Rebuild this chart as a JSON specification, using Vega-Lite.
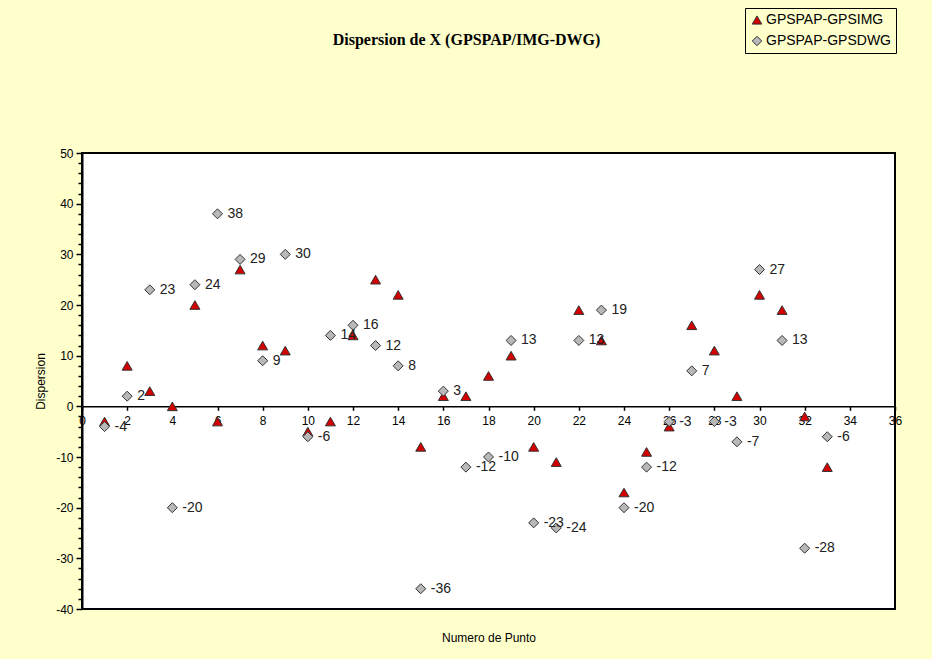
{
  "$schema": "https://vega.github.io/schema/vega-lite/v6.json",
  "width": 813,
  "height": 456,
  "autosize": "none",
  "padding": {"left": 82, "top": 153, "right": 37, "bottom": 50},
  "background": "#FFFFCC",
  "title": {
    "text": "Dispersion de X (GPSPAP/IMG-DWG)",
    "font": "Liberation Serif",
    "fontSize": 16,
    "fontWeight": "bold",
    "color": "#000000",
    "anchor": "middle",
    "dx": -22,
    "offset": -40
  },
  "config": {
    "view": {"fill": "white", "stroke": "black", "strokeWidth": 2},
    "axis": {"labelFont": "Liberation Sans", "titleFont": "Liberation Sans", "labelColor": "#000", "titleColor": "#000", "grid": false}
  },
  "data": {
    "values": [
      {"punto": 1, "serie": "GPSPAP-GPSIMG", "valor": -3},
      {"punto": 2, "serie": "GPSPAP-GPSIMG", "valor": 8},
      {"punto": 3, "serie": "GPSPAP-GPSIMG", "valor": 3},
      {"punto": 4, "serie": "GPSPAP-GPSIMG", "valor": 0},
      {"punto": 5, "serie": "GPSPAP-GPSIMG", "valor": 20},
      {"punto": 6, "serie": "GPSPAP-GPSIMG", "valor": -3},
      {"punto": 7, "serie": "GPSPAP-GPSIMG", "valor": 27},
      {"punto": 8, "serie": "GPSPAP-GPSIMG", "valor": 12},
      {"punto": 9, "serie": "GPSPAP-GPSIMG", "valor": 11},
      {"punto": 10, "serie": "GPSPAP-GPSIMG", "valor": -5},
      {"punto": 11, "serie": "GPSPAP-GPSIMG", "valor": -3},
      {"punto": 12, "serie": "GPSPAP-GPSIMG", "valor": 14},
      {"punto": 13, "serie": "GPSPAP-GPSIMG", "valor": 25},
      {"punto": 14, "serie": "GPSPAP-GPSIMG", "valor": 22},
      {"punto": 15, "serie": "GPSPAP-GPSIMG", "valor": -8},
      {"punto": 16, "serie": "GPSPAP-GPSIMG", "valor": 2},
      {"punto": 17, "serie": "GPSPAP-GPSIMG", "valor": 2},
      {"punto": 18, "serie": "GPSPAP-GPSIMG", "valor": 6},
      {"punto": 19, "serie": "GPSPAP-GPSIMG", "valor": 10},
      {"punto": 20, "serie": "GPSPAP-GPSIMG", "valor": -8},
      {"punto": 21, "serie": "GPSPAP-GPSIMG", "valor": -11},
      {"punto": 22, "serie": "GPSPAP-GPSIMG", "valor": 19},
      {"punto": 23, "serie": "GPSPAP-GPSIMG", "valor": 13},
      {"punto": 24, "serie": "GPSPAP-GPSIMG", "valor": -17},
      {"punto": 25, "serie": "GPSPAP-GPSIMG", "valor": -9},
      {"punto": 26, "serie": "GPSPAP-GPSIMG", "valor": -4},
      {"punto": 27, "serie": "GPSPAP-GPSIMG", "valor": 16},
      {"punto": 28, "serie": "GPSPAP-GPSIMG", "valor": 11},
      {"punto": 29, "serie": "GPSPAP-GPSIMG", "valor": 2},
      {"punto": 30, "serie": "GPSPAP-GPSIMG", "valor": 22},
      {"punto": 31, "serie": "GPSPAP-GPSIMG", "valor": 19},
      {"punto": 32, "serie": "GPSPAP-GPSIMG", "valor": -2},
      {"punto": 33, "serie": "GPSPAP-GPSIMG", "valor": -12},
      {"punto": 1, "serie": "GPSPAP-GPSDWG", "valor": -4},
      {"punto": 2, "serie": "GPSPAP-GPSDWG", "valor": 2},
      {"punto": 3, "serie": "GPSPAP-GPSDWG", "valor": 23},
      {"punto": 4, "serie": "GPSPAP-GPSDWG", "valor": -20},
      {"punto": 5, "serie": "GPSPAP-GPSDWG", "valor": 24},
      {"punto": 6, "serie": "GPSPAP-GPSDWG", "valor": 38},
      {"punto": 7, "serie": "GPSPAP-GPSDWG", "valor": 29},
      {"punto": 8, "serie": "GPSPAP-GPSDWG", "valor": 9},
      {"punto": 9, "serie": "GPSPAP-GPSDWG", "valor": 30},
      {"punto": 10, "serie": "GPSPAP-GPSDWG", "valor": -6},
      {"punto": 11, "serie": "GPSPAP-GPSDWG", "valor": 14},
      {"punto": 12, "serie": "GPSPAP-GPSDWG", "valor": 16},
      {"punto": 13, "serie": "GPSPAP-GPSDWG", "valor": 12},
      {"punto": 14, "serie": "GPSPAP-GPSDWG", "valor": 8},
      {"punto": 15, "serie": "GPSPAP-GPSDWG", "valor": -36},
      {"punto": 16, "serie": "GPSPAP-GPSDWG", "valor": 3},
      {"punto": 17, "serie": "GPSPAP-GPSDWG", "valor": -12},
      {"punto": 18, "serie": "GPSPAP-GPSDWG", "valor": -10},
      {"punto": 19, "serie": "GPSPAP-GPSDWG", "valor": 13},
      {"punto": 20, "serie": "GPSPAP-GPSDWG", "valor": -23},
      {"punto": 21, "serie": "GPSPAP-GPSDWG", "valor": -24},
      {"punto": 22, "serie": "GPSPAP-GPSDWG", "valor": 13},
      {"punto": 23, "serie": "GPSPAP-GPSDWG", "valor": 19},
      {"punto": 24, "serie": "GPSPAP-GPSDWG", "valor": -20},
      {"punto": 25, "serie": "GPSPAP-GPSDWG", "valor": -12},
      {"punto": 26, "serie": "GPSPAP-GPSDWG", "valor": -3},
      {"punto": 27, "serie": "GPSPAP-GPSDWG", "valor": 7},
      {"punto": 28, "serie": "GPSPAP-GPSDWG", "valor": -3},
      {"punto": 29, "serie": "GPSPAP-GPSDWG", "valor": -7},
      {"punto": 30, "serie": "GPSPAP-GPSDWG", "valor": 27},
      {"punto": 31, "serie": "GPSPAP-GPSDWG", "valor": 13},
      {"punto": 32, "serie": "GPSPAP-GPSDWG", "valor": -28},
      {"punto": 33, "serie": "GPSPAP-GPSDWG", "valor": -6}
    ]
  },
  "encoding": {
    "x": {
      "field": "punto",
      "type": "quantitative",
      "scale": {"domain": [0, 36], "nice": false, "zero": false},
      "axis": {
        "values": [0, 2, 4, 6, 8, 10, 12, 14, 16, 18, 20, 22, 24, 26, 28, 30, 32, 34, 36],
        "offset": -202.7,
        "domainColor": "#000",
        "domainWidth": 1.5,
        "tickColor": "#000",
        "tickSize": 4,
        "tickWidth": 1.5,
        "labelFontSize": 12,
        "labelPadding": 5,
        "labelOverlap": false,
        "labelFlush": false,
        "title": "Numero de Punto",
        "titleFontSize": 12,
        "titleFontWeight": "normal",
        "titleBaseline": "middle",
        "titleY": 231
      }
    },
    "y": {
      "field": "valor",
      "type": "quantitative",
      "scale": {"domain": [-40, 50], "nice": false},
      "axis": {
        "values": [-40, -38, -36, -34, -32, -30, -28, -26, -24, -22, -20, -18, -16, -14, -12, -10, -8, -6, -4, -2, 0, 2, 4, 6, 8, 10, 12, 14, 16, 18, 20, 22, 24, 26, 28, 30, 32, 34, 36, 38, 40, 42, 44, 46, 48, 50],
        "labelExpr": "datum.value % 10 === 0 ? '' + datum.value : ''",
        "labelOverlap": false,
        "domainColor": "#000",
        "domainWidth": 2,
        "tickColor": "#000",
        "tickWidth": 1.5,
        "tickSize": {"condition": {"test": "datum.value % 10 === 0", "value": 6}, "value": 4},
        "labelFontSize": 12,
        "labelPadding": 3,
        "title": "Dispersion",
        "titleFontSize": 12,
        "titleFontWeight": "normal",
        "titlePadding": 8
      }
    }
  },
  "layer": [
    {
      "mark": {"type": "point", "filled": true, "stroke": "#333", "strokeWidth": 1, "opacity": 1, "size": 100},
      "encoding": {
        "color": {
          "field": "serie",
          "type": "nominal",
          "scale": {"domain": ["GPSPAP-GPSIMG", "GPSPAP-GPSDWG"], "range": ["#D40000", "#B8B8B8"]},
          "legend": {
            "orient": "none",
            "legendX": 663,
            "legendY": -145,
            "title": null,
            "strokeColor": "#000",
            "fillColor": "#FFFFCC",
            "padding": 5,
            "labelFont": "Liberation Sans",
            "labelFontSize": 14,
            "labelColor": "#000",
            "symbolSize": 90,
            "symbolStrokeColor": "#333",
            "symbolStrokeWidth": 1,
            "rowPadding": 7,
            "labelOffset": 2
          }
        },
        "shape": {
          "field": "serie",
          "type": "nominal",
          "scale": {"domain": ["GPSPAP-GPSIMG", "GPSPAP-GPSDWG"], "range": ["triangle-up", "diamond"]}
        }
      }
    },
    {
      "transform": [{"filter": "datum.serie === 'GPSPAP-GPSDWG'"}],
      "mark": {"type": "text", "align": "left", "dx": 10, "baseline": "middle", "font": "Liberation Sans", "fontSize": 14, "color": "#222"},
      "encoding": {"text": {"field": "valor", "type": "nominal"}}
    }
  ]
}
